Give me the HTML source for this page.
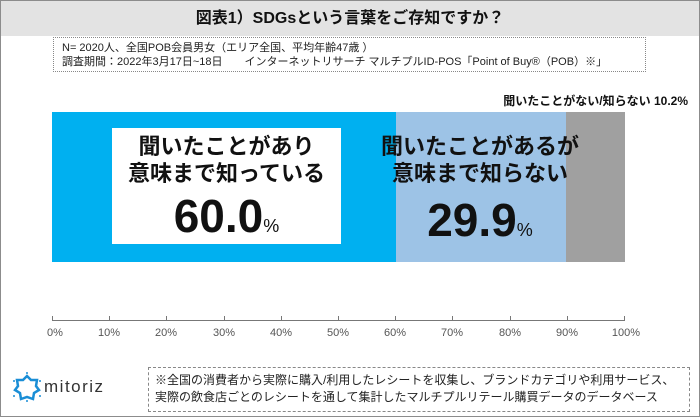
<!DOCTYPE html>
<html><head><meta charset="utf-8"><style>
body{margin:0;width:700px;height:417px;overflow:hidden;background:#fff;font-family:"Liberation Sans","Noto Sans CJK JP",sans-serif;}
.frame{position:absolute;left:0;top:0;width:698px;height:415px;border:1px solid #8c8c8c;}
.title{position:absolute;left:1px;top:1px;width:698px;height:35px;background:#e3e3e3;text-align:center;font-weight:bold;font-size:16px;line-height:35px;color:#111;}
.info{position:absolute;left:53px;top:37px;width:593px;height:35px;border:1px dotted #888;font-size:11px;line-height:14px;padding:3px 0 0 8px;box-sizing:border-box;color:#222;}
.a{position:absolute;}
.lab{position:absolute;top:92px;right:12px;font-size:12px;font-weight:bold;color:#111;}
.big{font-family:"Liberation Sans Narrow","Liberation Sans",sans-serif;font-weight:bold;font-size:46px;line-height:46px;}
.pc{font-size:18px;font-weight:normal;}
.t{font-weight:bold;font-size:22px;line-height:27px;color:#111;white-space:nowrap;}
.tick{position:absolute;top:316px;width:1px;height:5px;background:#777;}
.tl{position:absolute;top:327px;font-size:11px;color:#555;width:40px;text-align:center;}
.note{position:absolute;left:148px;top:367px;width:542px;height:45px;border:1px dashed #888;box-sizing:border-box;font-size:12px;line-height:17px;padding:4px 0 0 6px;color:#222;}
</style></head><body>
<div class="frame"></div>
<div class="title">図表1）SDGsという言葉をご存知ですか？</div>
<div class="info">N= 2020人、全国POB会員男女（エリア全国、平均年齢47歳 ）<br>調査期間：2022年3月17日~18日　　インターネットリサーチ マルチプルID-POS「Point of Buy®（POB）※」</div>
<div class="lab">聞いたことがない/知らない 10.2%</div>
<div class="a" style="left:52px;top:112px;width:344px;height:150px;background:#00b0f0"></div>
<div class="a" style="left:396px;top:112px;width:170px;height:150px;background:#9dc3e6"></div>
<div class="a" style="left:566px;top:112px;width:59px;height:150px;background:#a0a0a0"></div>
<div class="a" style="left:112px;top:128px;width:229px;height:116px;background:#fff;text-align:center;">
<div class="t" style="margin-top:5px">聞いたことがあり<br>意味まで知っている</div>
<div class="big" style="color:#111;margin-top:6px">60.0<span class="pc">%</span></div></div>
<div class="a" style="left:370px;top:133px;width:220px;text-align:center;">
<div class="t">聞いたことがあるが<br>意味まで知らない</div>
<div class="big" style="color:#111;margin-top:10px">29.9<span class="pc">%</span></div></div>
<div class="a" style="left:52px;top:320px;width:573px;height:1px;background:#777"></div>
<div class="tick" style="left:52px"></div><div class="tick" style="left:109px"></div><div class="tick" style="left:166px"></div><div class="tick" style="left:224px"></div><div class="tick" style="left:281px"></div><div class="tick" style="left:338px"></div><div class="tick" style="left:395px"></div><div class="tick" style="left:452px"></div><div class="tick" style="left:510px"></div><div class="tick" style="left:567px"></div><div class="tick" style="left:624px"></div>
<div class="tl" style="left:35px">0%</div><div class="tl" style="left:89px">10%</div><div class="tl" style="left:146px">20%</div><div class="tl" style="left:204px">30%</div><div class="tl" style="left:261px">40%</div><div class="tl" style="left:318px">50%</div><div class="tl" style="left:375px">60%</div><div class="tl" style="left:432px">70%</div><div class="tl" style="left:490px">80%</div><div class="tl" style="left:547px">90%</div><div class="tl" style="left:606px">100%</div>
<svg class="a" style="left:12px;top:372px" width="30" height="30" viewBox="0 0 30 30"><polygon points="15,4 19,8 25,8 24,14 27,18 22,21 21,27 15,25 9,27 8,21 3,18 6,14 5,8 11,8" fill="none" stroke="#1a8ed6" stroke-width="2.5"/><g fill="#1a8ed6"><circle cx="15" cy="1" r="1"/><circle cx="28" cy="9" r="1"/><circle cx="28" cy="24" r="1"/><circle cx="15" cy="29" r="1"/><circle cx="2" cy="24" r="1"/><circle cx="2" cy="9" r="1"/></g></svg>
<div class="a" style="left:44px;top:377px;font-size:17px;letter-spacing:1.5px;color:#333">mitoriz</div>
<div class="note">※全国の消費者から実際に購入/利用したレシートを収集し、ブランドカテゴリや利用サービス、<br>実際の飲食店ごとのレシートを通して集計したマルチプルリテール購買データのデータベース</div>
</body></html>
